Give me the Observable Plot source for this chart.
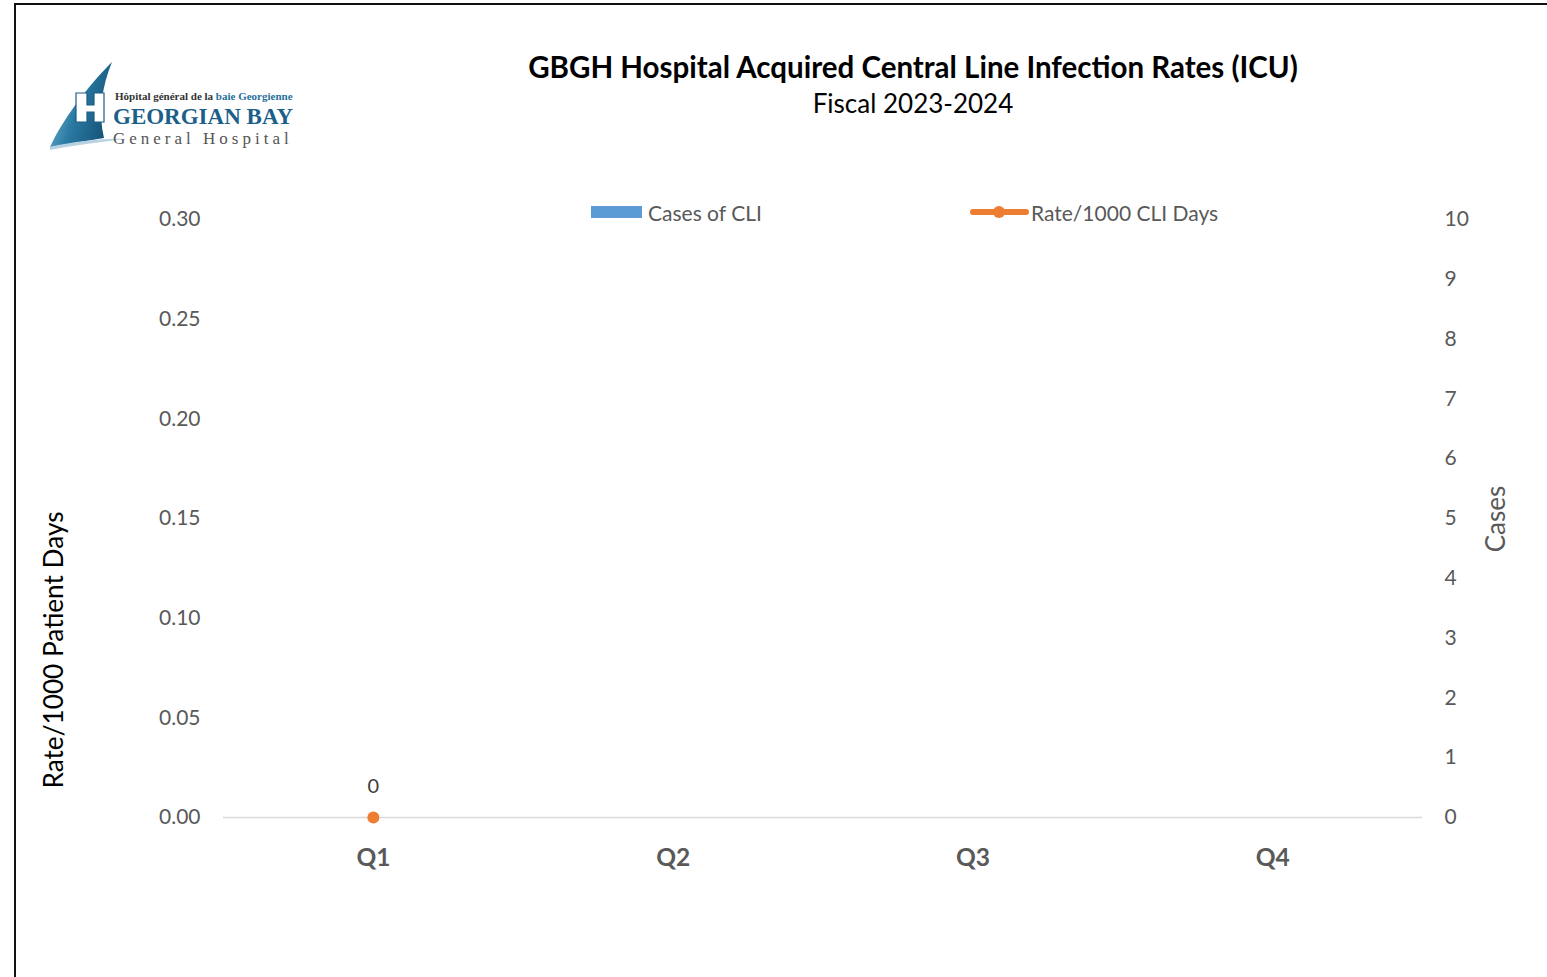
<!DOCTYPE html>
<html>
<head>
<meta charset="utf-8">
<script src="https://cdn.jsdelivr.net/npm/d3@7"></script>
<script src="https://cdn.jsdelivr.net/npm/@observablehq/plot@0.6"></script>
<style>
  html, body { margin: 0; padding: 0; background: #fff; }
  body { width: 1547px; height: 977px; position: relative; overflow: hidden; font-family: Lato, "Open Sans", sans-serif; }
  #frame { position: absolute; left: 14px; top: 3px; width: 1600px; height: 1000px; border-top: 2px solid #111; border-left: 2px solid #111; }
  #chart { position: absolute; left: 0; top: 0; }
  .title { position: absolute; left: 413px; width: 1000px; text-align: center; color: #000; line-height: 1.2; }
  #t1 { top: 49px; font-size: 29.5px; font-weight: bold; }
  #t2 { top: 88px; font-size: 26px; }
  .legend { position: absolute; top: 198px; font-size: 21px; color: #595959; display: flex; align-items: center; }
  .axtitle { position: absolute; transform: translate(-50%, -50%) rotate(-90deg); white-space: nowrap; line-height: 1; }
  #logo { position: absolute; left: 46px; top: 58px; }
</style>
</head>
<body>
<div id="frame"></div>
<div id="chart"></div>
<div class="title" id="t1">GBGH Hospital Acquired Central Line Infection Rates (ICU)</div>
<div class="title" id="t2">Fiscal 2023-2024</div>
<div class="legend" style="left:591px;">
  <svg width="57" height="28"><rect x="0" y="8" width="51" height="12" fill="#5b9bd5"></rect></svg><span>Cases of CLI</span>
</div>
<div class="legend" style="left:968px;">
  <svg width="63" height="28"><line x1="5" x2="58" y1="14" y2="14" stroke="#ed7d31" stroke-width="6" stroke-linecap="round"></line><circle cx="31" cy="14" r="6" fill="#ed7d31"></circle></svg><span>Rate/1000 CLI Days</span>
</div>
<div class="axtitle" style="left:53px; top:650px; font-size:26.2px; color:#000;">Rate/1000 Patient Days</div>
<div class="axtitle" style="left:1495px; top:519px; font-size:26px; color:#595959;">Cases</div>
<svg id="logo" width="260" height="95" viewBox="0 0 260 95">
  <defs>
    <linearGradient id="sail" x1="0" y1="0.3" x2="1" y2="0.7">
      <stop offset="0" stop-color="#7ab8d4"></stop>
      <stop offset="0.45" stop-color="#2a7aa3"></stop>
      <stop offset="1" stop-color="#134f75"></stop>
    </linearGradient>
  </defs>
  <path d="M66,4 C48,22 20,55 4,89 L58,80 C52,55 56,28 66,4 Z" fill="url(#sail)"></path>
  <path d="M4,89 C30,83 60,80 80,81 C55,84 30,87 4,92 Z" fill="#b9d2e2"></path>
  <path d="M30,35 H41 V47 H48 V35 H58 V64 H48 V54 H41 V64 H30 Z" fill="#fff" stroke="#1a5e86" stroke-width="1.2"></path>
  <text x="69" y="42" font-family="Liberation Serif, serif" font-size="11" font-weight="bold" fill="#333">Hôpital général de la <tspan fill="#2a6f9b">baie Georgienne</tspan></text>
  <text x="67" y="66" font-family="Liberation Serif, serif" font-size="23" font-weight="bold" fill="#1c5f8a">GEORGIAN BAY</text>
  <text x="67" y="86" font-family="Liberation Serif, serif" font-size="17" letter-spacing="4" fill="#555">General Hospital</text>
</svg>
<script>
const quarters = ["Q1", "Q2", "Q3", "Q4"];
const cases = [0, null, null, null];
const rates = [0, null, null, null];
const rateTicks = [0, 0.05, 0.10, 0.15, 0.20, 0.25, 0.30];
const caseTicks = [0, 1, 2, 3, 4, 5, 6, 7, 8, 9, 10];
const rateMax = 0.30;
const caseMax = 10;

const toRate = c => c * rateMax / caseMax;
const data = quarters.map((q, i) => ({q, cases: cases[i], rate: rates[i]}));
const pts = data.filter(d => d.rate != null);

const chart = Plot.plot({
  width: 1547,
  height: 977,
  marginLeft: 223,
  marginRight: 125,
  marginTop: 219,
  marginBottom: 160,
  style: {fontFamily: "Lato, 'Open Sans', sans-serif", background: "transparent", overflow: "visible"},
  x: {domain: quarters, padding: 0, round: false},
  y: {domain: [0, rateMax]},
  marks: [
    Plot.barY(data.filter(d => d.cases != null), {x: "q", y: d => toRate(d.cases), fill: "#5b9bd5", inset: 75}),
    Plot.ruleY([0], {stroke: "#d9d9d9", strokeWidth: 1.5}),
    Plot.axisY({anchor: "left", ticks: rateTicks, tickFormat: d3.format(".2f"), tickSize: 0, tickPadding: 23, fontSize: 21, color: "#595959", label: null}),
    Plot.axisY({anchor: "right", ticks: caseTicks.map(toRate), tickFormat: d => String(Math.round(d * caseMax / rateMax)), tickSize: 0, tickPadding: 22, fontSize: 21, color: "#595959", label: null}),
    Plot.axisX({tickSize: 0, tickPadding: 31, fontSize: 24.5, fontWeight: "bold", color: "#595959", label: null}),
    Plot.line(pts, {x: "q", y: "rate", stroke: "#ed7d31", strokeWidth: 5}),
    Plot.dot(pts, {x: "q", y: "rate", r: 6, fill: "#ed7d31"}),
    Plot.text(pts, {x: "q", y: "rate", text: d => String(d.rate), dy: -31, fontSize: 20, fill: "#404040"})
  ]
});
document.getElementById("chart").appendChild(chart);
</script>
</body>
</html>
